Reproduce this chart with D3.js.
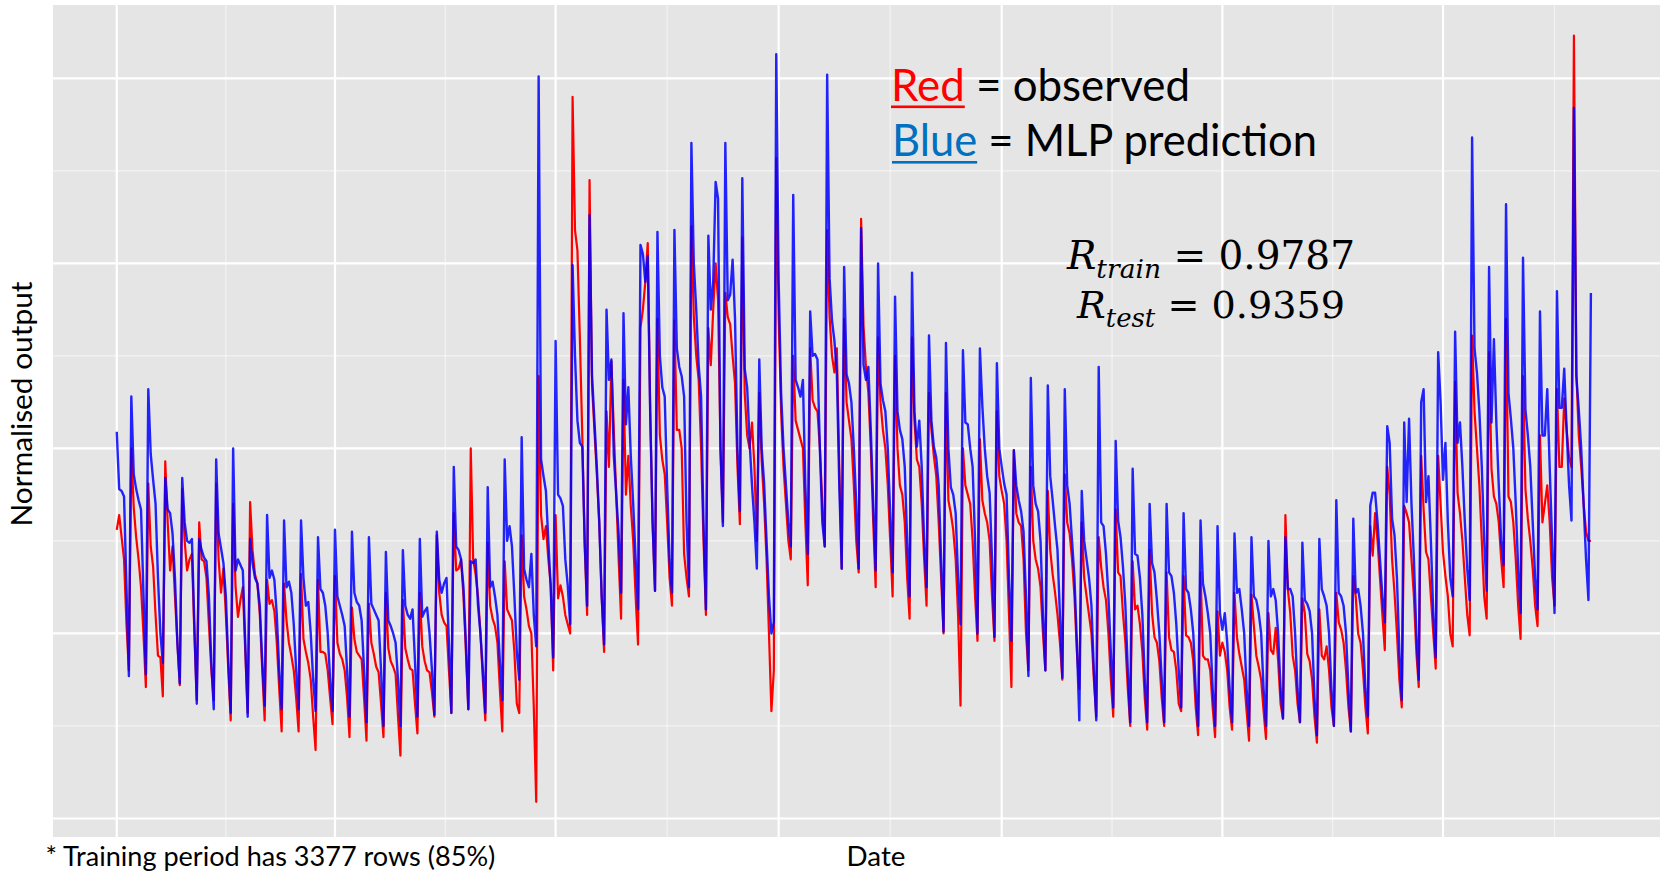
<!DOCTYPE html>
<html>
<head>
<meta charset="utf-8">
<script src="https://cdn.jsdelivr.net/npm/d3@7"></script>
<style>
  html, body { margin: 0; padding: 0; background: #fff; }
  svg { display: block; }
</style>
</head>
<body>
<div id="chart"></div>
<script>
// one value per day from this date, in hundredths of the normalised output
var startDate = new Date(2015, 0, 1)

var observed = [
    156, 164, 152, 140, 105, 80,
    200, 168, 152, 140, 125, 100, 71,
    181, 147, 136, 110, 88, 87, 66,
    193, 160, 134, 147, 120, 95, 72,
    178, 150, 134, 140, 143, 100, 64,
    160, 140, 139, 130, 105, 80, 64,
    181, 140, 122, 135, 110, 80, 53,
    170, 125, 109, 118, 125, 90, 57,
    171, 145, 132, 127, 110, 80, 53,
    129, 116, 118, 112, 95, 70, 47,
    127, 107, 95, 88, 80, 65, 47,
    132, 97, 90, 84, 75, 55, 37,
    129, 90, 90, 89, 80, 65, 51,
    131, 95, 89, 86, 80, 65, 44,
    114, 97, 90, 88, 86, 65, 42,
    116, 95, 89, 82, 79, 62, 44,
    122, 92, 85, 82, 78, 55, 34,
    118, 92, 86, 81, 80, 62, 46,
    122, 93, 85, 80, 79, 68, 55,
    153, 122, 110, 106, 104, 80, 57,
    165, 134, 135, 140, 120, 90, 59,
    200, 140, 132, 120, 100, 75, 53,
    149, 115, 108, 104, 95, 70, 47,
    139, 113, 110, 107, 90, 62, 57,
    153, 120, 113, 104, 100, 60, 9,
    239, 164, 151, 158, 140, 126, 80,
    164, 119, 126, 120, 110, 105, 100,
    390, 318, 307, 260, 207, 147, 110,
    345, 235, 210, 186, 160, 120, 90,
    220, 190, 247, 210, 175, 140, 108,
    237, 175, 196, 169, 150, 120, 94,
    265, 275, 290, 311, 220, 160, 123,
    270, 207, 194, 186, 160, 130, 115,
    269, 210, 210, 200, 143, 130, 120,
    320, 271, 250, 237, 200, 150, 110,
    265, 245, 275, 300, 280, 200, 160,
    284, 271, 267, 250, 235, 190, 159,
    314, 230, 207, 200, 214, 190, 150,
    230, 193, 170, 140, 100, 58, 80,
    357, 270, 220, 190, 170, 150, 140,
    250, 215, 210, 205, 200, 160, 126,
    254, 226, 222, 220, 200, 170, 147,
    318, 271, 250, 241, 254, 190, 135,
    270, 225, 215, 205, 180, 150, 133,
    324, 266, 244, 230, 200, 160, 125,
    260, 225, 210, 200, 180, 150, 120,
    250, 200, 180, 175, 160, 130, 108,
    260, 215, 194, 190, 170, 140, 115,
    230, 210, 196, 185, 160, 130, 100,
    230, 172, 165, 156, 140, 110, 61,
    200, 180, 175, 170, 150, 120, 96,
    205, 172, 165, 160, 150, 120, 96,
    220, 185, 177, 170, 150, 110, 71,
    199, 165, 160, 158, 140, 100, 80,
    190, 150, 140, 135, 125, 100, 80,
    177, 145, 132, 122, 110, 95, 75,
    186, 160, 154, 140, 120, 90, 70,
    160, 130, 120, 110, 100, 75, 55,
    152, 136, 125, 118, 100, 75, 55,
    167, 133, 131, 111, 95, 70, 50,
    139, 113, 115, 105, 90, 65, 48,
    145, 111, 98, 95, 85, 65, 50,
    133, 98, 91, 90, 80, 62, 58,
    131, 99, 98, 95, 85, 60, 45,
    133, 88, 86, 86, 80, 60, 44,
    112, 88, 95, 90, 80, 60, 48,
    122, 98, 89, 82, 75, 58, 42,
    121, 104, 88, 82, 75, 58, 43,
    111, 91, 89, 103, 85, 62, 54,
    164, 124, 111, 88, 80, 62, 52,
    119, 111, 89, 85, 75, 55, 41,
    113, 88, 86, 93, 80, 60, 50,
    122, 106, 102, 95, 80, 60, 47,
    131, 120, 100, 95, 80, 60, 46,
    158, 142, 165, 150, 130, 110, 91,
    190, 175, 140, 122, 100, 75, 60,
    169, 165, 160, 140, 120, 90, 71,
    196, 167, 144, 140, 120, 100, 81,
    196, 170, 144, 131, 120, 100, 93,
    236, 176, 165, 150, 130, 110, 99,
    261, 220, 200, 180, 150, 120, 108,
    252, 189, 174, 170, 160, 140, 125,
    270, 174, 171, 160, 140, 115, 97,
    239, 178, 162, 150, 135, 115, 104,
    207, 160, 170, 180, 160, 130, 115,
    232, 190, 190, 227, 210, 195, 190,
    423, 241, 207, 190, 170, 155, 150,
    150
]

var predicted = [
    209, 178, 177, 174, 125, 77,
    228, 186, 178, 172, 167, 122, 78,
    232, 197, 183, 170, 130, 100, 84,
    184, 167, 165, 154, 130, 95, 73,
    184, 160, 150, 149, 151, 105, 62,
    151, 145, 141, 139, 120, 85, 59,
    194, 154, 146, 138, 120, 85, 57,
    200, 134, 140, 137, 134, 95, 55,
    151, 138, 130, 127, 115, 85, 61,
    164, 130, 134, 129, 110, 80, 59,
    161, 125, 128, 122, 105, 80, 59,
    161, 130, 115, 117, 100, 75, 58,
    152, 124, 122, 115, 100, 75, 58,
    156, 120, 115, 110, 104, 80, 55,
    155, 122, 117, 115, 107, 80, 52,
    152, 116, 113, 110, 107, 80, 50,
    144, 107, 104, 100, 95, 75, 50,
    145, 115, 110, 108, 113, 85, 55,
    151, 109, 112, 114, 100, 80, 56,
    155, 129, 122, 127, 130, 95, 57,
    190, 147, 145, 140, 125, 95, 59,
    139, 138, 140, 115, 100, 80, 57,
    179, 125, 128, 120, 110, 85, 64,
    194, 150, 158, 147, 120, 90, 75,
    206, 135, 129, 125, 143, 110, 93,
    401, 194, 185, 177, 150, 124, 87,
    258, 175, 173, 169, 140, 126, 105,
    299, 250, 215, 203, 201, 150, 115,
    326, 240, 215, 190, 160, 120, 94,
    275, 237, 248, 196, 175, 154, 122,
    273, 213, 233, 196, 170, 140, 113,
    310, 305, 290, 304, 220, 160, 123,
    317, 250, 233, 228, 180, 140, 122,
    318, 254, 244, 239, 228, 160, 125,
    365, 300, 275, 245, 228, 160, 113,
    315, 275, 290, 344, 335, 200, 158,
    365, 280, 283, 302, 270, 200, 166,
    346, 243, 233, 204, 180, 160, 135,
    248, 200, 181, 150, 120, 100, 106,
    413, 290, 230, 200, 180, 160, 147,
    337, 237, 233, 228, 237, 180, 143,
    274, 250, 251, 248, 200, 160, 147,
    402, 292, 269, 258, 240, 180, 135,
    298, 240, 235, 225, 200, 170, 135,
    319, 245, 237, 244, 210, 170, 134,
    300, 235, 226, 220, 200, 165, 133,
    282, 220, 210, 205, 190, 150, 120,
    295, 220, 201, 215, 190, 150, 125,
    261, 215, 201, 195, 180, 140, 101,
    257, 200, 179, 175, 165, 130, 105,
    253, 214, 213, 200, 190, 150, 100,
    254, 223, 200, 185, 176, 140, 98,
    246, 200, 190, 181, 175, 130, 96,
    199, 180, 172, 166, 155, 120, 77,
    238, 180, 170, 166, 150, 110, 80,
    234, 185, 172, 158, 145, 110, 76,
    232, 180, 170, 150, 130, 95, 53,
    177, 150, 140, 130, 115, 80, 53,
    244, 160, 158, 143, 120, 90, 60,
    204, 161, 152, 136, 115, 80, 52,
    189, 143, 142, 130, 110, 75, 52,
    170, 138, 133, 118, 100, 75, 52,
    170, 133, 131, 122, 105, 80, 60,
    165, 124, 122, 113, 100, 70, 50,
    161, 127, 120, 111, 100, 70, 50,
    158, 111, 102, 111, 95, 70, 52,
    154, 122, 124, 113, 100, 70, 50,
    152, 120, 118, 111, 100, 70, 50,
    150, 120, 124, 118, 100, 70, 54,
    152, 124, 124, 120, 100, 70, 52,
    149, 118, 116, 112, 100, 65, 45,
    151, 124, 120, 115, 100, 70, 50,
    172, 122, 120, 115, 100, 70, 47,
    162, 122, 124, 115, 100, 70, 55,
    169, 176, 176, 160, 140, 120, 106,
    212, 203, 162, 153, 130, 90, 64,
    214, 171, 216, 170, 140, 100, 75,
    225, 232, 171, 185, 150, 110, 87,
    252, 225, 183, 203, 160, 130, 120,
    263, 203, 214, 190, 160, 135, 118,
    368, 254, 241, 220, 190, 150, 123,
    298, 214, 259, 214, 180, 150, 137,
    332, 230, 216, 200, 170, 135, 111,
    303, 221, 207, 190, 160, 130, 113,
    274, 207, 207, 232, 190, 150, 111,
    285, 222, 222, 243, 210, 180, 161,
    384, 239, 221, 200, 170, 140, 118,
    284
]

var scores = [
    {name: 'train', value: '0.9787'},
    {name: 'test', value: '0.9359'}
]

var fullWidth = 1663,
    fullHeight = 874,
    panel = {left: 53, right: 1660, top: 5, bottom: 837},
    dayMs = 864e5,
    sans = 'Lato, "Open Sans", sans-serif',
    serif = '"DejaVu Serif", "Liberation Serif", serif'

var colors = {
    panel: '#e5e5e5',
    grid: '#ffffff',
    observed: '#ff0000',
    predicted: '#0000ff',
    blueWord: '#0070c0',
    text: '#000000'
}

var x = d3.scaleTime()
    .domain([new Date(+startDate - 26.3 * dayMs), new Date(+startDate + 636.5 * dayMs)])
    .range([panel.left, panel.right])

var y = d3.scaleLinear()
    .domain([-10, 439.6])
    .range([panel.bottom, panel.top])

var svg = d3.select('#chart').append('svg')
    .attr('width', fullWidth)
    .attr('height', fullHeight)
    .attr('viewBox', '0 0 ' + fullWidth + ' ' + fullHeight)

svg.append('rect')
    .attr('x', panel.left)
    .attr('y', panel.top)
    .attr('width', panel.right - panel.left)
    .attr('height', panel.bottom - panel.top)
    .attr('fill', colors.panel)

// grid: quarterly breaks on x, minor breaks halfway between
var quarter = d3.timeMonth.every(3),
    xMajor = x.ticks(quarter),
    xAll = quarter.range(d3.timeMonth.offset(x.domain()[0], -3), d3.timeMonth.offset(x.domain()[1], 3)),
    xMinor = d3.pairs(xAll, function(a, b) { return new Date((+a + +b) / 2) })
        .filter(function(d) { return d > x.domain()[0] && d < x.domain()[1] }),
    yMajor = y.ticks(5),
    yMinor = d3.range(-50, 500, 100).filter(function(d) { return d > y.domain()[0] && d < y.domain()[1] })

var grid = svg.append('g')

grid.selectAll('.ymin').data(yMinor).enter().append('line')
    .attr('x1', panel.left).attr('x2', panel.right)
    .attr('y1', y).attr('y2', y)
    .attr('stroke', colors.grid).attr('stroke-opacity', 0.55).attr('stroke-width', 1.2)

grid.selectAll('.xmin').data(xMinor).enter().append('line')
    .attr('y1', panel.top).attr('y2', panel.bottom)
    .attr('x1', x).attr('x2', x)
    .attr('stroke', colors.grid).attr('stroke-opacity', 0.55).attr('stroke-width', 1.2)

grid.selectAll('.ymaj').data(yMajor).enter().append('line')
    .attr('x1', panel.left).attr('x2', panel.right)
    .attr('y1', y).attr('y2', y)
    .attr('stroke', colors.grid).attr('stroke-width', 2.2)

grid.selectAll('.xmaj').data(xMajor).enter().append('line')
    .attr('y1', panel.top).attr('y2', panel.bottom)
    .attr('x1', x).attr('x2', x)
    .attr('stroke', colors.grid).attr('stroke-width', 2.2)

var line = d3.line()
    .x(function(d, i) { return x(d3.timeDay.offset(startDate, i)) })
    .y(function(d) { return y(d) })

svg.append('path')
    .datum(observed)
    .attr('d', line)
    .attr('fill', 'none')
    .attr('stroke', colors.observed)
    .attr('stroke-width', 2.2)
    .attr('stroke-linejoin', 'round')

svg.append('path')
    .datum(predicted)
    .attr('d', line)
    .attr('fill', 'none')
    .attr('stroke', colors.predicted)
    .attr('stroke-opacity', 0.85)
    .attr('stroke-width', 2.4)
    .attr('stroke-linejoin', 'round')

// text helpers
function fitText(sel, target) {
    var len = sel.node().getComputedTextLength()
    if (len > 0) sel.attr('font-size', parseFloat(sel.attr('font-size')) * target / len)
    return sel
}

svg.append('text')
    .attr('x', 45.5).attr('y', 866)
    .attr('font-family', sans).attr('font-size', 27)
    .attr('fill', colors.text)
    .text('* Training period has 3377 rows (85%)')
    .call(fitText, 450)

svg.append('text')
    .attr('x', 876).attr('y', 866)
    .attr('text-anchor', 'middle')
    .attr('font-family', sans).attr('font-size', 27)
    .attr('fill', colors.text)
    .text('Date')
    .call(fitText, 59)

svg.append('text')
    .attr('transform', 'translate(32,404) rotate(-90)')
    .attr('text-anchor', 'middle')
    .attr('font-family', sans).attr('font-size', 29)
    .attr('fill', colors.text)
    .text('Normalised output')
    .call(fitText, 245)

// legend written in the panel, coloured words underlined
var legend = [
    {word: 'Red', rest: ' = observed', color: colors.observed, x: 891, y: 100.5, width: 299},
    {word: 'Blue', rest: ' = MLP prediction', color: colors.blueWord, x: 892, y: 156, width: 425}
]

legend.forEach(function(l) {
    var t = svg.append('text')
        .attr('x', l.x).attr('y', l.y)
        .attr('font-family', sans).attr('font-size', 44)
    t.append('tspan').attr('fill', l.color).text(l.word)
    t.append('tspan').attr('fill', colors.text).text(l.rest)
    fitText(t, l.width)
    var wordLen = t.node().getSubStringLength(0, l.word.length)
    svg.append('rect')
        .attr('x', l.x).attr('y', l.y + 5)
        .attr('width', wordLen).attr('height', 2.6)
        .attr('fill', l.color)
})

var scoreWidths = [288, 268],
    scoreBase = [269, 318]

scores.forEach(function(s, i) {
    var t = svg.append('text')
        .attr('x', 1211).attr('y', scoreBase[i])
        .attr('text-anchor', 'middle')
        .attr('font-family', serif).attr('font-size', 40)
        .attr('fill', colors.text)
    t.append('tspan').attr('font-style', 'italic').text('R')
    t.append('tspan').attr('font-style', 'italic')
        .attr('font-size', '0.68em').attr('dy', '0.33em')
        .text(s.name)
    t.append('tspan').attr('dy', '-0.225em').text(' = ' + s.value)
    fitText(t, scoreWidths[i])
})
</script>
</body>
</html>
